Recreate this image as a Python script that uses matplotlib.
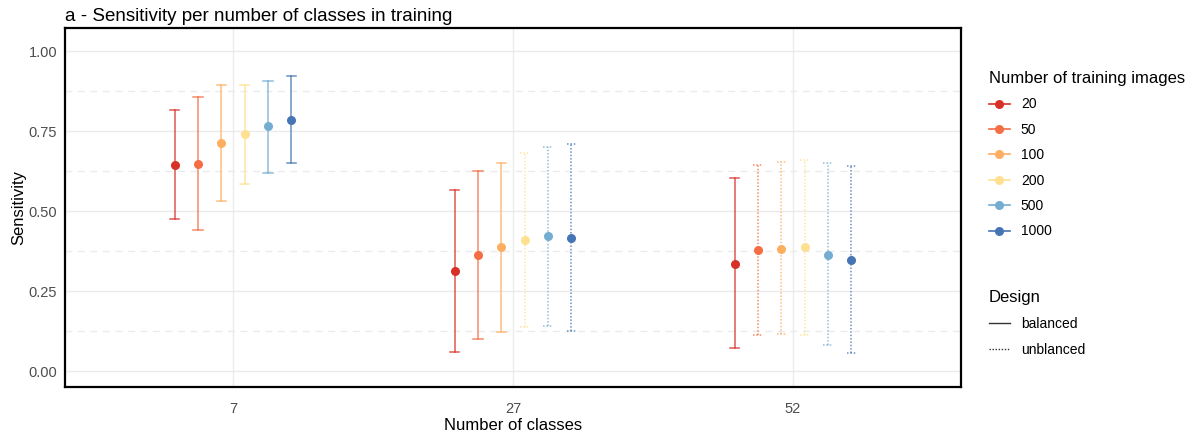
import matplotlib.pyplot as plt
import numpy as np
from matplotlib.lines import Line2D

plt.rcParams['font.family'] = ['Liberation Sans', 'DejaVu Sans']

classes = ["7", "27", "52"]
images = ["20", "50", "100", "200", "500", "1000"]
colors = ["#D73027", "#F46D43", "#FDAE61", "#FEE090", "#74ADD1", "#4575B4"]

# sensitivity mean and interval, one list per number of classes
mean_7 = [0.644, 0.646, 0.713, 0.740, 0.765, 0.783]
low_7 = [0.474, 0.441, 0.532, 0.583, 0.620, 0.649]
high_7 = [0.817, 0.857, 0.893, 0.893, 0.907, 0.923]
design_7 = ["balanced"] * 6

mean_27 = [0.313, 0.361, 0.386, 0.408, 0.422, 0.416]
low_27 = [0.058, 0.099, 0.121, 0.138, 0.141, 0.125]
high_27 = [0.567, 0.624, 0.649, 0.682, 0.701, 0.710]
design_27 = ["balanced"] * 3 + ["unblanced"] * 3

mean_52 = [0.334, 0.379, 0.382, 0.386, 0.363, 0.346]
low_52 = [0.073, 0.113, 0.116, 0.113, 0.080, 0.055]
high_52 = [0.602, 0.645, 0.652, 0.659, 0.649, 0.641]
design_52 = ["balanced"] + ["unblanced"] * 5

means = [mean_7, mean_27, mean_52]
lows = [low_7, low_27, low_52]
highs = [high_7, high_27, high_52]
designs = [design_7, design_27, design_52]

styles = {"balanced": "-", "unblanced": (0, (1, 1.2))}

fig = plt.figure(figsize=(11.95, 4.37), dpi=100)
ax = fig.add_axes([0.0544, 0.1144, 0.7498, 0.8216])

dodge = 0.5 / 6
cap = 0.017
for ci in range(len(classes)):
    for gi in range(len(images)):
        x = ci + 1 + (gi - 2.5) * dodge
        ls = styles[designs[ci][gi]]
        col = colors[gi]
        ax.plot([x, x], [lows[ci][gi], highs[ci][gi]], color=col, lw=1.1, ls=ls, alpha=0.8, zorder=3)
        ax.plot([x - cap, x + cap], [lows[ci][gi]] * 2, color=col, lw=1.1, ls=ls, alpha=0.8, zorder=3)
        ax.plot([x - cap, x + cap], [highs[ci][gi]] * 2, color=col, lw=1.1, ls=ls, alpha=0.8, zorder=3)
        ax.plot(x, means[ci][gi], 'o', color=col, ms=6.5, mec='none', zorder=4)

ax.set_xlim(0.4, 3.6)
ax.set_ylim(-0.05, 1.072)
ax.set_xticks([1, 2, 3])
ax.set_xticklabels(classes)
ax.set_yticks([0, 0.25, 0.5, 0.75, 1.0])
ax.set_yticklabels(["0.00", "0.25", "0.50", "0.75", "1.00"])
for yv in [0.125, 0.375, 0.625, 0.875]:
    ax.axhline(yv, color="#EBEBEB", lw=1, ls=(0, (5, 4)), zorder=1)
ax.grid(True, color="#EBEBEB", lw=1, zorder=1)
ax.set_axisbelow(True)
ax.tick_params(length=0, labelsize=10.5, labelcolor="#4D4D4D")
ax.tick_params(axis="x", pad=11)
ax.tick_params(axis="y", pad=5.5)
for sp in ax.spines.values():
    sp.set_linewidth(1.6)
    sp.set_color("black")

ax.set_xlabel("Number of classes", fontsize=12, labelpad=1)
ax.set_ylabel("Sensitivity", fontsize=12, labelpad=2)
ax.set_title("a - Sensitivity per number of classes in training", loc="left", fontsize=13.5, pad=5)

img_handles = [Line2D([], [], color=c, lw=1.2, marker='o', ms=6.5, mec='none') for c in colors]
leg1 = fig.legend(img_handles, images, title="Number of training images", loc="upper left",
                  bbox_to_anchor=(0.817, 0.866), frameon=False, fontsize=10, title_fontsize=12,
                  handlelength=1.5, labelspacing=0.82, handletextpad=0.8)
leg1._legend_box.align = "left"

des_handles = [Line2D([], [], color="#333333", lw=1, ls=styles[d]) for d in ["balanced", "unblanced"]]
leg2 = fig.legend(des_handles, ["balanced", "unblanced"], title="Design", loc="upper left",
                  bbox_to_anchor=(0.817, 0.365), frameon=False, fontsize=10, title_fontsize=12,
                  handlelength=1.5, labelspacing=0.85, handletextpad=0.8)
leg2._legend_box.align = "left"

fig.savefig("out.png", dpi=100)
